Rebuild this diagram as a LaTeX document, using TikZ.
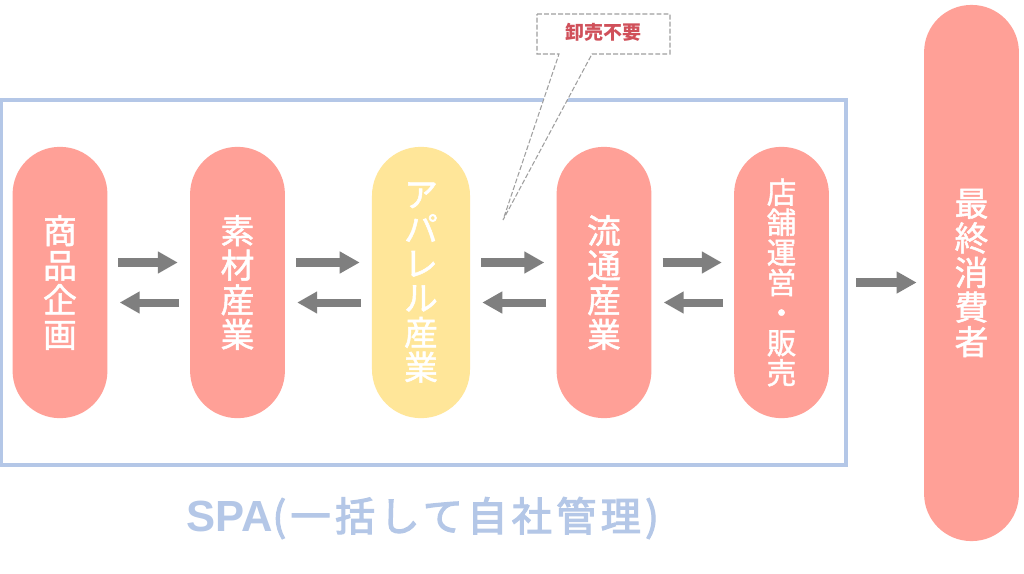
\documentclass[tikz,border=0pt]{standalone}
\usepackage{fontspec}
\setmainfont{Noto Sans CJK JP}
\newfontfamily\pillfont[FakeBold=1.5]{Noto Sans CJK JP}
\newfontfamily\spafont[FakeBold=3,LetterSpace=11]{Noto Sans CJK JP}
\newfontfamily\spalatin{Liberation Sans}
\usetikzlibrary{arrows.meta}
\definecolor{pillred}{HTML}{FFA097}
\definecolor{pillyellow}{HTML}{FFE699}
\definecolor{frameblue}{HTML}{B4C7E7}
\definecolor{arrowgray}{HTML}{7F7F7F}
\definecolor{noteRed}{HTML}{D0505A}
\tikzset{
    pill/.style={rectangle, fill=pillred, text=white, align=center, inner sep=0pt,
        minimum width=2.37cm, minimum height=6.78cm, rounded corners=1.18cm,
        font=\pillfont\fontsize{24}{24.6}\selectfont},
    flow/.style={draw=arrowgray, line width=5.7pt, shorten >=0.3cm, shorten <=0.27cm,
        -{Triangle[length=0.5cm,width=0.52cm]}},
}
\begin{document}
\begin{tikzpicture}[x=0.025cm, y=-0.025cm]
    \path[use as bounding box, fill=white] (0,0) rectangle (1024,573);

    % Frame
    \node[draw=frameblue, line width=2.84pt, minimum width=21.12cm, minimum height=9.12cm] (frame) at (423.5,282.5) {};
    \node[text=frameblue, font=\fontsize{28.5}{33}\selectfont] (spa) at (422.5,518) {{\spalatin\fontsize{31}{33}\selectfont\bfseries SPA}{\spafont (一括して自社管理)}};

    % Stages
    \node[pill] (plan) at (60,282.5) {商\\品\\企\\画};
    \node[pill] (material) at (237.5,282.5) {素\\材\\産\\業};
    \node[pill, fill=pillyellow, minimum width=2.45cm, rounded corners=1.22cm] (apparel) at (421,282.5) {ア\\パ\\レ\\ル\\産\\業};
    \node[pill] (distribution) at (604,282.5) {流\\通\\産\\業};
    \node[pill, font=\pillfont\fontsize{21}{21.4}\selectfont] (retail) at (781.5,282.5) {店\\舗\\運\\営\\・\\販\\売};
    \node[pill, minimum height=13.4cm] (consumer) at (971.5,273) {最\\終\\消\\費\\者};

    % Arrows
    \foreach \a/\b in {plan/material,material/apparel,apparel/distribution,distribution/retail} {
        \draw[flow] ([yshift=0.5cm]\a.east) -- ([yshift=0.5cm]\b.west);
        \draw[flow] ([yshift=-0.5cm]\b.west) -- ([yshift=-0.5cm]\a.east);
    }
    \draw[flow, shorten >=0.18cm, shorten <=0.2cm] (frame.east) -- (frame.east -| consumer.west);

    % Note
    \coordinate (tip) at (503,220);
    \draw[draw=gray!75, dash pattern=on 3.5pt off 1.5pt, line width=0.75pt, fill=white] (537,14) -- (670,14) -- (670,54) -- (592,54) -- (tip) -- (559,54) -- (537,54) -- cycle;
    \node[text=noteRed, inner sep=0pt, font=\fontsize{13.5}{15}\selectfont\bfseries] (note) at (603.5,32.5) {卸売不要};
\end{tikzpicture}
\end{document}
